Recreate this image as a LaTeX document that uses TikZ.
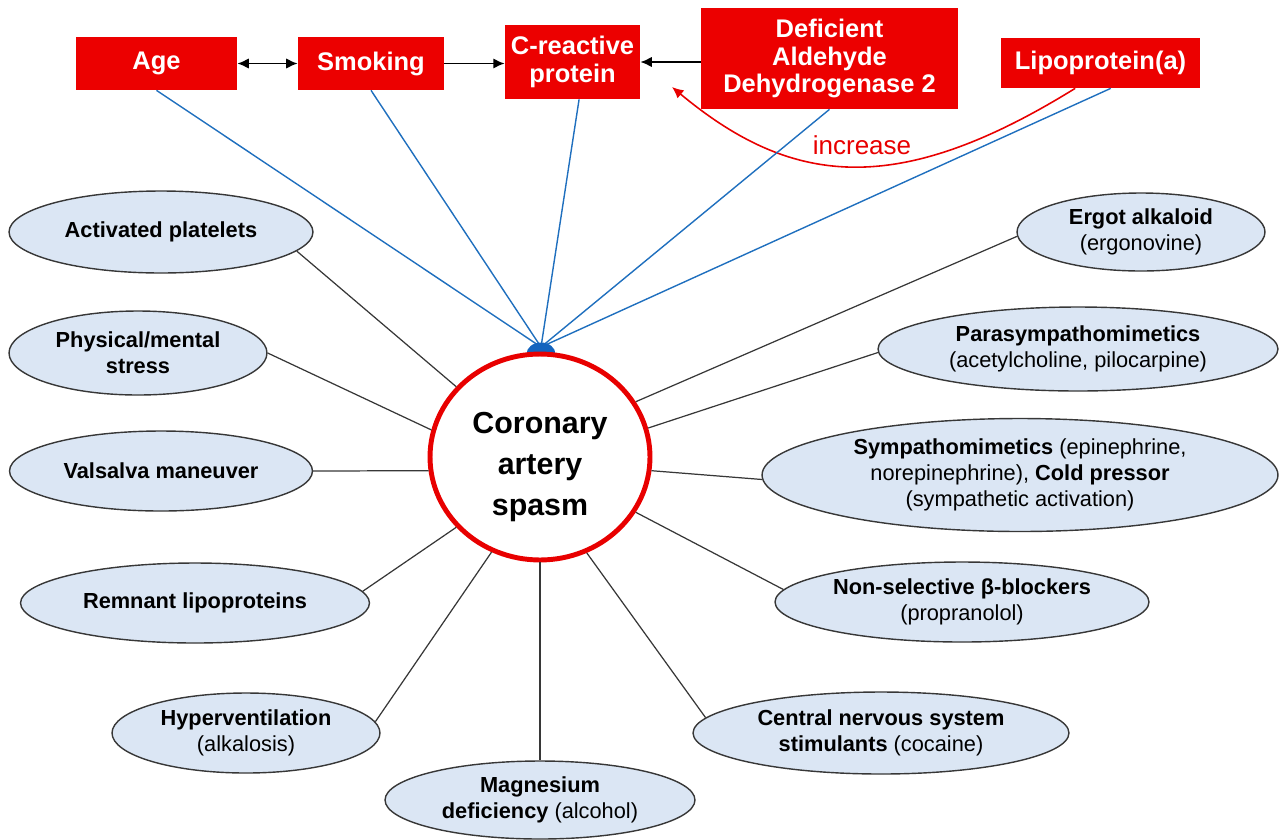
\documentclass[tikz,border=0pt]{standalone}
\usepackage{fontspec}
\setmainfont{Liberation Sans}
\usetikzlibrary{positioning, arrows.meta, shapes.geometric}

\definecolor{boxred}{RGB}{236,0,0}
\definecolor{ellblue}{RGB}{219,230,244}
\definecolor{linegray}{RGB}{55,55,55}
\definecolor{feedblue}{RGB}{31,111,190}
\definecolor{hubblue}{RGB}{20,100,190}
\definecolor{casred}{RGB}{232,0,0}

\newcommand{\riskfont}{\fontsize{14.5}{15.5}\selectfont\bfseries}
\newcommand{\causefont}{\fontsize{12.4}{15}\selectfont}
\newcommand{\casfont}{\fontsize{17.3}{23.5}\selectfont\bfseries}

\tikzset{
  riskbox/.style={fill=boxred, text=white, font=\riskfont, inner sep=0pt, align=center},
  cause/.style={ellipse, draw=linegray, line width=0.8pt, fill=ellblue, inner sep=0pt,
    align=center, font=\causefont},
  link/.style={linegray, line width=0.7pt},
  feed/.style={feedblue, line width=0.8pt},
}

\begin{document}
\begin{tikzpicture}[>={Latex[length=6.5pt,width=6pt]}, x=0.02cm, y=-0.02cm]
\useasboundingbox (0,0) rectangle (1280,839);

% --- Risk factors (top row) ---
\node[riskbox, minimum width=3.22cm, minimum height=1.06cm] (age) at (156.5,63.5) {Age};
\node[riskbox, minimum width=2.92cm, minimum height=1.06cm] (smk) at (371,63.5) {Smoking};
\node[riskbox, minimum width=2.70cm, minimum height=1.48cm] (crp) at (572.5,62) {C-reactive\\protein};
\node[riskbox, minimum width=5.14cm, minimum height=2.02cm] (aldh) at (829.5,58.5)
  {Deficient\\Aldehyde\\Dehydrogenase 2};
\node[riskbox, minimum width=3.98cm, minimum height=1.00cm] (lpa) at (1100.5,63) {Lipoprotein(a)};

\draw[<->, line width=1.1pt] (age) -- (smk);
\draw[->, line width=1.1pt] (smk.east) -- (smk.east -| crp.west);
\draw[->, line width=1.1pt] (aldh.west |- crp.east) -- (crp.east);

% --- Lp(a) increases CRP ---
\coordinate (crptip) at (672,87);
\draw[->, casred, line width=0.9pt] (lpa.-135) .. controls (895,200) and (790,185) .. (crptip);
\node[text=casred, font=\fontsize{14.8}{16}\selectfont] (inc) at (862,145) {increase};

% --- Feeds into the spasm ---
\coordinate (hub) at (541,347);
\foreach \src in {age.south, smk.south, crp.-80, aldh.south, lpa.-68}
  \draw[feed] (\src) -- (hub);
\fill[hubblue] (541,354) ellipse[x radius=0.29cm, y radius=0.23cm];

% --- Central node ---
\node[ellipse, draw=casred, line width=2.8pt, fill=white, minimum width=4.4cm,
  minimum height=4.12cm, inner sep=0pt] (cas) at (540,457) {};
\node[align=center, font=\casfont] (castxt) at (540,467) {Coronary\\artery\\spasm};

% --- Causes, left ---
\node[cause, minimum width=6.08cm, minimum height=1.64cm] (ap) at (161,232)
  {\textbf{Activated platelets}};
\node[cause, minimum width=5.16cm, minimum height=1.68cm] (pm) at (138,353)
  {\textbf{Physical/mental}\\\textbf{stress}};
\node[cause, minimum width=6.06cm, minimum height=1.60cm] (vm) at (161,471)
  {\textbf{Valsalva maneuver}};
\node[cause, minimum width=6.98cm, minimum height=1.60cm] (rl) at (195,603)
  {\textbf{Remnant lipoproteins}};
\node[cause, minimum width=5.36cm, minimum height=1.60cm] (hv) at (246,733)
  {\textbf{Hyperventilation}\\(alkalosis)};
\node[cause, minimum width=6.20cm, minimum height=1.56cm] (md) at (540,800)
  {\textbf{Magnesium}\\\textbf{deficiency} (alcohol)};

% --- Causes, right ---
\node[cause, minimum width=4.96cm, minimum height=1.56cm] (ea) at (1141,232)
  {\textbf{Ergot alkaloid}\\(ergonovine)};
\node[cause, minimum width=8.00cm, minimum height=1.68cm] (ps) at (1078,349)
  {\textbf{Parasympathomimetics}\\(acetylcholine, pilocarpine)};
\node[cause, minimum width=10.32cm, minimum height=2.26cm] (sy) at (1020,475)
  {\textbf{Sympathomimetics} (epinephrine,\\norepinephrine), \textbf{Cold pressor}\\(sympathetic activation)};
\node[cause, minimum width=7.48cm, minimum height=1.60cm] (bb) at (962,602)
  {\textbf{Non-selective β-blockers}\\(propranolol)};
\node[cause, minimum width=7.52cm, minimum height=1.64cm] (cn) at (881,733)
  {\textbf{Central nervous system}\\\textbf{stimulants} (cocaine)};

% --- Links ---
\draw[link] (cas.140) -- (ap.-8);
\draw[link] (cas.166) -- (pm.east);
\draw[link] (cas.187) -- (vm.east);
\draw[link] (cas.220) -- (rl.4);
\draw[link] (cas.243) -- (hv.5);
\draw[link] (cas.south) -- (md.north);
\draw[link] (cas.296) -- (cn.175);
\draw[link] (cas.-30) -- (bb.176);
\draw[link] (cas.-7) -- (sy.181);
\draw[link] (cas.15) -- (ps.181);
\draw[link] (cas.30) -- (ea.182);

\end{tikzpicture}
\end{document}
